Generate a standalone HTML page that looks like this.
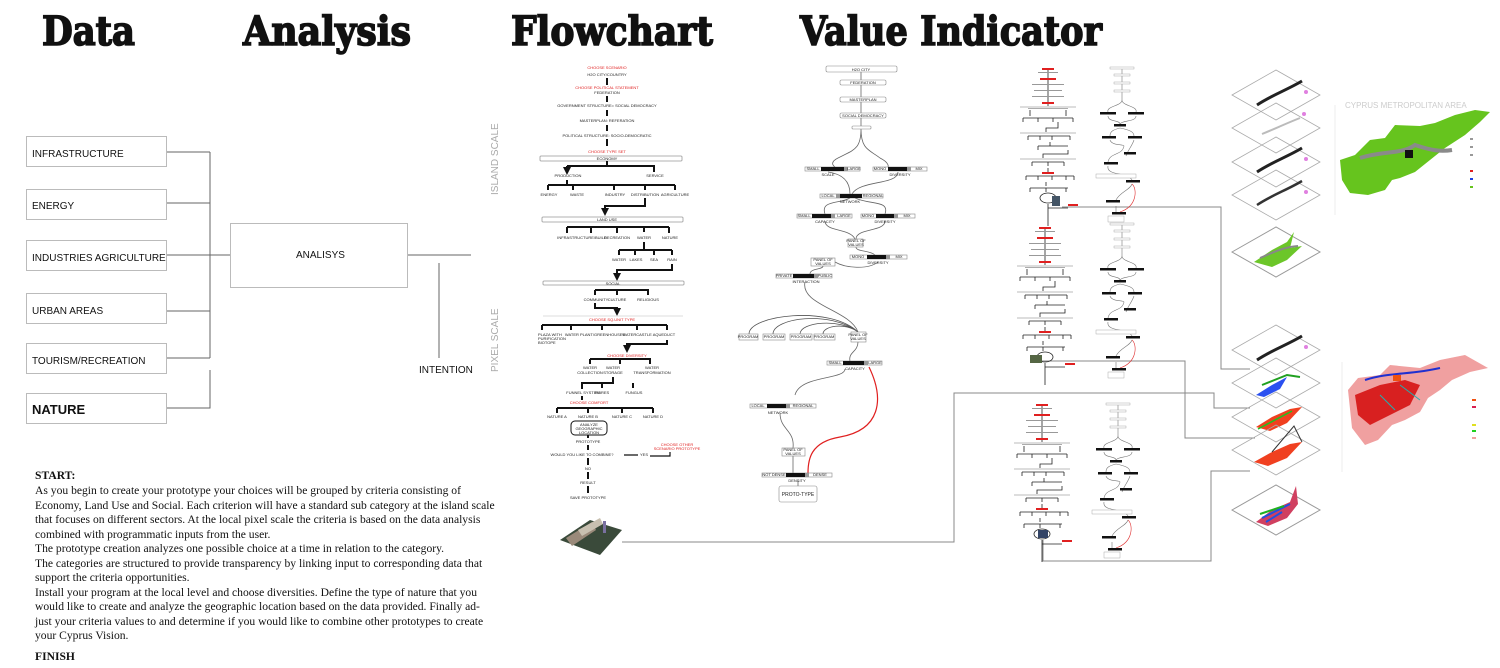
<!DOCTYPE html>
<html><head><meta charset="utf-8"><style>
html,body{margin:0;padding:0;background:#fff;}
svg{display:block;}
.h{font-family:"DejaVu Serif","Liberation Serif",serif;font-weight:900;font-size:40px;fill:#111;stroke:#111;stroke-width:1.6;}
.bx{fill:#fff;stroke:#bbb;stroke-width:1;}
.lb{font-family:"Liberation Sans",sans-serif;font-size:10px;fill:#111;}
.t{font-family:"Liberation Sans",sans-serif;font-size:4px;fill:#222;text-anchor:middle;}
.r{fill:#e02020;}
.k{stroke:#111;stroke-width:2;fill:none;}
.g{stroke:#666;stroke-width:1;fill:none;}
.vb{fill:#fff;stroke:#888;stroke-width:0.6;}
.p{font-family:"Liberation Serif",serif;font-size:11.6px;fill:#111;}
</style></head><body>
<svg width="1500" height="668" viewBox="0 0 1500 668" xmlns="http://www.w3.org/2000/svg">
<defs>
<marker id="ar" markerWidth="4" markerHeight="4" refX="2" refY="2" orient="auto"><path d="M0,0L4,2L0,4z" fill="#111"/></marker>
<g id="mf">
 <g stroke="#222" stroke-width="0.8" fill="none">
 <path d="M30,2V40M10,42H50M12,44V50M48,44V50M5,52H55M5,52V56M20,52V56M35,52V56M55,52V56M40,56V62H28V66M10,70H52M10,70V74M22,70V74M34,70V74M52,70V74M32,76V80M20,80H50M20,80V84M50,84V88H25V92M14,96H46M14,96V100M30,96V100M46,96V100M30,102V106M8,110H56M8,110V114M20,110V114M34,110V114M48,110V114M56,110V114M28,116V120M12,122H50M12,122V126M28,122V126M48,122V126M30,138V160M30,142H50"/>
 </g>
 <g fill="#ddd"><rect x="2" y="40" width="56" height="2"/><rect x="2" y="66" width="56" height="2"/><rect x="2" y="92" width="56" height="2"/></g>
 <ellipse cx="30" cy="132" rx="8" ry="5" fill="none" stroke="#222" stroke-width="0.8"/>
 <rect x="24" y="2" width="12" height="2" fill="#e02020"/><rect x="22" y="12" width="16" height="2" fill="#e02020"/><rect x="24" y="36" width="12" height="2" fill="#e02020"/><rect x="24" y="106" width="12" height="2" fill="#e02020"/><rect x="50" y="138" width="10" height="2" fill="#e02020"/>
 <g fill="#999"><rect x="20" y="6" width="20" height="1"/><rect x="14" y="18" width="32" height="1"/><rect x="16" y="24" width="28" height="1"/><rect x="14" y="30" width="32" height="1"/></g>
</g>
<g id="mv">
 <g stroke="#777" stroke-width="0.6" fill="none">
 <path d="M30,2V34C30,40 14,40 16,46M30,34C30,40 46,40 44,46M16,50C16,56 28,54 28,58M44,50C44,56 30,54 28,58M28,62C20,64 18,66 18,70M28,62C38,64 42,66 42,70M18,74C20,80 32,78 32,80M42,74C40,80 36,84 34,90M32,80C30,90 18,86 16,96M16,100C14,110 36,106 40,114M40,118C38,124 28,126 24,134M24,140V148"/>
 <path d="M40,118C45,122 46,140 28,146" stroke="#e03030"/>
 </g>
 <g fill="#fff" stroke="#999" stroke-width="0.4"><rect x="18" y="1" width="24" height="2"/><rect x="22" y="8" width="16" height="2"/><rect x="22" y="16" width="16" height="2"/><rect x="22" y="24" width="16" height="2"/><rect x="4" y="108" width="40" height="4"/><rect x="16" y="150" width="16" height="6"/></g>
 <g fill="#111"><rect x="8" y="46" width="16" height="2.5"/><rect x="36" y="46" width="16" height="2.5"/><rect x="22" y="58" width="12" height="2.5"/><rect x="10" y="70" width="14" height="2.5"/><rect x="36" y="70" width="14" height="2.5"/><rect x="32" y="86" width="12" height="2.5"/><rect x="12" y="96" width="14" height="2.5"/><rect x="34" y="114" width="14" height="2.5"/><rect x="14" y="134" width="14" height="2.5"/><rect x="20" y="146" width="14" height="2.5"/></g>
</g>
<g id="dia"><path d="M0,0L44,-25L88,0L44,25Z" fill="none" stroke="#aaa" stroke-width="0.8"/></g>
</defs>

<!-- headings -->
<text class="h" x="42" y="45" textLength="93" lengthAdjust="spacingAndGlyphs">Data</text>
<text class="h" x="243" y="45" textLength="168" lengthAdjust="spacingAndGlyphs">Analysis</text>
<text class="h" x="511" y="45" textLength="202" lengthAdjust="spacingAndGlyphs">Flowchart</text>
<text class="h" x="800" y="45" textLength="302" lengthAdjust="spacingAndGlyphs">Value Indicator</text>

<!-- data boxes -->
<g>
<rect class="bx" x="26.5" y="136.5" width="140" height="30"/><text class="lb" x="32" y="157">INFRASTRUCTURE</text>
<rect class="bx" x="26.5" y="189.5" width="140" height="30"/><text class="lb" x="32" y="209">ENERGY</text>
<rect class="bx" x="26.5" y="240.5" width="140" height="30"/><text class="lb" x="32" y="261">INDUSTRIES AGRICULTURE</text>
<rect class="bx" x="26.5" y="293.5" width="140" height="30"/><text class="lb" x="32" y="314">URBAN AREAS</text>
<rect class="bx" x="26.5" y="343.5" width="140" height="30"/><text class="lb" x="32" y="364">TOURISM/RECREATION</text>
<rect class="bx" x="26.5" y="393.5" width="140" height="30"/><text class="lb" x="32" y="414" style="font-size:13px;font-weight:bold">NATURE</text>
<path class="g" d="M167,152H210M167,203H210M167,255H230M167,311H210M167,358H210M210,152V358M210,370V408H167M407,255H471M439,263V358" stroke="#888"/>
<rect class="bx" x="230.5" y="223.5" width="177" height="64"/><text class="lb" x="296" y="258">ANALISYS</text>
<text class="lb" x="419" y="373">INTENTION</text>
<text x="498" y="195" transform="rotate(-90 498 195)" style="font-family:'Liberation Sans';font-size:10px;fill:#aaa">ISLAND SCALE</text>
<text x="498" y="372" transform="rotate(-90 498 372)" style="font-family:'Liberation Sans';font-size:10px;fill:#aaa">PIXEL SCALE</text>
</g>

<!-- text block -->
<g class="p">
<text x="35" y="479" style="font-weight:bold">START:</text>
<text x="35" y="494">As you begin to create your prototype your choices will be grouped by criteria consisting of</text>
<text x="35" y="509">Economy, Land Use and Social. Each criterion will have a standard sub category at the island scale</text>
<text x="35" y="523">that focuses on different sectors.  At the local pixel scale the criteria is based on the data analysis</text>
<text x="35" y="538">combined with programmatic inputs from the user.</text>
<text x="35" y="552">The prototype creation analyzes one possible choice at a time in relation to the category.</text>
<text x="35" y="567">The categories are structured to provide transparency by linking input to corresponding data that</text>
<text x="35" y="581">support the criteria opportunities.</text>
<text x="35" y="596">Install your program at the local level and choose diversities.  Define the type of nature that you</text>
<text x="35" y="610">would like to create and analyze the geographic location based on the data provided.  Finally ad-</text>
<text x="35" y="625">just your criteria values to and determine if  you would like to combine other prototypes to create</text>
<text x="35" y="639">your Cyprus Vision.</text>
<text x="35" y="660" style="font-weight:bold">FINISH</text>
</g>

<!-- flowchart -->
<g>
<text class="t r" x="607" y="69">CHOOSE SCENARIO</text>
<text class="t" x="607" y="76">H2O CITY/COUNTRY</text>
<path class="k" d="M607,78V85M607,96V102M607,110V116M607,125V131M607,139V146"/>
<text class="t r" x="607" y="89">CHOOSE POLITICAL STATEMENT</text>
<text class="t" x="607" y="94">FEDERATION</text>
<text class="t" x="607" y="107">GOVERNMENT STRUCTURE= SOCIAL DEMOCRACY</text>
<text class="t" x="607" y="122">MASTERPLAN: REFERATION</text>
<text class="t" x="607" y="137">POLITICAL STRUCTURE: SOCIO-DEMOCRATIC</text>
<text class="t r" x="607" y="153">CHOOSE TYPE SET</text>
<rect x="540" y="156" width="142" height="5" rx="1" fill="#fff" stroke="#999" stroke-width="0.8"/><text class="t" x="607" y="160">ECONOMY</text>
<path class="k" d="M607,161V166M567,166H654V172M567,166V171" marker-end="url(#ar)"/>
<text class="t" x="568" y="177">PRODUCTION</text><text class="t" x="655" y="177">SERVICE</text>
<path class="k" d="M567,180V185M548,185H675M548,185V190M573,185V190M614,185V190M675,185V190M645,185V190"/>
<text class="t" x="549" y="196">ENERGY</text><text class="t" x="577" y="196">WASTE</text><text class="t" x="615" y="196">INDUSTRY</text><text class="t" x="645" y="196">DISTRIBUTION</text><text class="t" x="675" y="196">AGRICULTURE</text>
<path class="k" d="M645,198V206H605V212" marker-end="url(#ar)"/>
<rect x="542" y="217" width="141" height="5" rx="1" fill="#fff" stroke="#999" stroke-width="0.8"/><text class="t" x="607" y="221">LAND USE</text>
<path class="k" d="M567,227H669M567,227V233M591,227V233M617,227V233M644,227V232M669,227V233"/>
<text class="t" x="582" y="239">INFRASTRUCTURE/BUILD</text><text class="t" x="617" y="239">RECREATION</text><text class="t" x="644" y="239">WATER</text><text class="t" x="670" y="239">NATURE</text>
<path class="k" d="M644,242V250M619,250H672M619,250V255M635,250V255M654,250V255M672,250V255"/>
<text class="t" x="619" y="261">WATER</text><text class="t" x="636" y="261">LAKES</text><text class="t" x="654" y="261">SEA</text><text class="t" x="672" y="261">RAIN</text>
<path class="k" d="M672,264V270H617V277" marker-end="url(#ar)"/>
<rect x="543" y="281" width="141" height="4" rx="1" fill="#fff" stroke="#999" stroke-width="0.8"/><text class="t" x="613" y="285">SOCIAL</text>
<path class="k" d="M595,290H648V295M617,290V295M595,290V295"/>
<text class="t" x="596" y="301">COMMUNITY</text><text class="t" x="617" y="301">CULTURE</text><text class="t" x="648" y="301">RELIGIOUS</text>
<path class="k" d="M595,303V308H617V312" marker-end="url(#ar)"/>
<line x1="543" y1="316" x2="683" y2="316" stroke="#ddd"/>
<text class="t r" x="612" y="321">CHOOSE SQ.UNIT TYPE</text>
<path class="k" d="M542,325H667M542,325V330M571,325V330M602,325V330M637,325V330M667,325V330"/>
<text class="t" x="538" y="336" style="text-anchor:start">PLAZA WITH</text><text class="t" x="538" y="340" style="text-anchor:start">PURIFICATION</text><text class="t" x="538" y="344" style="text-anchor:start">BIOTOPE</text>
<text class="t" x="595" y="336">WATER PLANT/GREENHOUSES</text><text class="t" x="637" y="336">WATERCASTLE</text><text class="t" x="664" y="336">AQUEDUCT</text>
<path class="k" d="M667,340V344H627V349" marker-end="url(#ar)"/>
<text class="t r" x="627" y="357">CHOOSE DIVERSITY</text>
<path class="k" d="M590,359H650V364M620,359V364M590,359V364"/>
<text class="t" x="590" y="369">WATER</text><text class="t" x="590" y="374">COLLECTION</text><text class="t" x="613" y="369">WATER</text><text class="t" x="613" y="374">STORAGE</text><text class="t" x="652" y="369">WATER</text><text class="t" x="652" y="374">TRANSFORMATION</text>
<path class="k" d="M613,377V383H582V389M602,383V388M633,383V388" />
<text class="t" x="583" y="394">FUNNEL SYSTEM</text><text class="t" x="602" y="394">FIBRES</text><text class="t" x="634" y="394">FUNGUS</text>
<path class="k" d="M582,396V400"/>
<text class="t r" x="589" y="404">CHOOSE COMFORT</text>
<path class="k" d="M557,408H653M557,408V413M588,408V413M622,408V413M653,408V413"/>
<text class="t" x="557" y="418">NATURE A</text><text class="t" x="588" y="418">NATURE B</text><text class="t" x="622" y="418">NATURE C</text><text class="t" x="653" y="418">NATURE D</text>
<rect x="571" y="421" width="36" height="14" rx="4" fill="#fff" stroke="#111" stroke-width="1"/>
<text class="t" x="589" y="426">ANALYZE</text><text class="t" x="589" y="430">GEOGRAPHIC</text><text class="t" x="589" y="434">LOCATION</text>
<path class="k" d="M588,435V438"/>
<text class="t" x="588" y="443">PROTOTYPE</text>
<path class="k" d="M588,445V450"/>
<text class="t" x="582" y="456">WOULD YOU LIKE TO COMBINE?</text>
<path d="M624,455H638M650,456H670V452" stroke="#111" stroke-width="1.2" fill="none"/>
<text class="t" x="644" y="456">YES</text>
<text class="t r" x="677" y="446">CHOOSE OTHER</text><text class="t r" x="677" y="450">SCENARIO PROTOTYPE</text>
<path class="k" d="M588,458V465M588,472V479M588,486V493"/>
<text class="t" x="588" y="470">NO</text><text class="t" x="588" y="484">RESULT</text><text class="t" x="588" y="499">SAVE PROTOTYPE</text>
<!-- building -->
<path d="M560,540L590,520L622,530L600,555Z" fill="#3a4a3a"/>
<path d="M566,538L592,522L596,530L572,546Z" fill="#9a8a7a"/>
<path d="M578,530L600,518L603,524L582,536Z" fill="#c8c0b0"/>
<rect x="603" y="521" width="3" height="12" fill="#7a70a0"/>
</g>

<!-- value indicator -->
<g>
<path d="M861,72V80M861,85V97M861,102V113M861,118V126M861,129C861,150 853,150 838,158C828,163 835,167 835,167M861,129C861,150 870,150 880,158C890,163 888,167 888,167M828,172C850,175 850,190 850,194M898,172C898,185 860,180 852,194M850,198C840,204 820,200 825,214M855,198C870,205 890,200 885,214M825,221C825,232 850,228 855,239M885,221C885,232 856,228 856,239M856,247C856,252 870,250 875,255M878,262C868,270 845,268 835,262M823,266C823,270 810,268 810,274M805,282C800,305 850,310 858,332M858,342C858,352 848,352 850,361M845,369C845,380 800,375 795,395M795,404M780,413C780,430 795,430 793,448M793,456V473M798,481V486" stroke="#666" stroke-width="0.8" fill="none"/>
<path d="M749,334C749,315 830,305 858,332M773,334C773,318 830,310 858,332M800,334C800,322 840,318 858,332M823,334C823,326 845,322 858,332" stroke="#555" stroke-width="0.8" fill="none"/>
<path d="M869,367C885,400 880,430 840,437C810,442 808,460 808,473" stroke="#e02020" stroke-width="1.2" fill="none"/>
<g class="vb">
<rect x="826" y="66" width="71" height="6" rx="1.5"/><rect x="840" y="80" width="46" height="5" rx="1.5"/><rect x="840" y="97" width="46" height="5" rx="1.5"/><rect x="840" y="113" width="46" height="5" rx="1.5"/><rect x="852" y="126" width="19" height="3" rx="1"/>
<rect x="805" y="167" width="55" height="4"/><rect x="873" y="167" width="54" height="4"/>
<rect x="820" y="194" width="63" height="4"/>
<rect x="797" y="214" width="55" height="4"/><rect x="861" y="214" width="54" height="4"/>
<rect x="848" y="239" width="15" height="8"/>
<rect x="850" y="255" width="57" height="4"/>
<rect x="811" y="258" width="24" height="8"/>
<rect x="776" y="274" width="56" height="4"/>
<rect x="739" y="334" width="19" height="6"/><rect x="763" y="334" width="22" height="6"/><rect x="790" y="334" width="22" height="6"/><rect x="814" y="334" width="21" height="6"/>
<rect x="851" y="332" width="15" height="10"/>
<rect x="827" y="361" width="55" height="4"/>
<rect x="750" y="404" width="66" height="4"/>
<rect x="782" y="448" width="23" height="8"/>
<rect x="762" y="473" width="70" height="4"/>
<rect x="779" y="486" width="38" height="16" rx="2"/>
</g>
<g fill="#111">
<rect x="821" y="167" width="23" height="4"/><rect x="888" y="167" width="22" height="4"/><rect x="836" y="194" width="26" height="4"/><rect x="812" y="214" width="23" height="4"/><rect x="876" y="214" width="22" height="4"/><rect x="867" y="255" width="23" height="4"/><rect x="793" y="274" width="25" height="4"/><rect x="843" y="361" width="25" height="4"/><rect x="767" y="404" width="23" height="4"/><rect x="786" y="473" width="22" height="4"/>
</g>
<g fill="#999"><rect x="844" y="167" width="4" height="4"/><rect x="907" y="167" width="4" height="4"/><rect x="836" y="194" width="4" height="4"/><rect x="831" y="214" width="4" height="4"/><rect x="894" y="214" width="4" height="4"/><rect x="886" y="255" width="4" height="4"/><rect x="814" y="274" width="4" height="4"/><rect x="864" y="361" width="4" height="4"/><rect x="786" y="404" width="4" height="4"/><rect x="805" y="473" width="4" height="4"/></g>
<g class="t">
<text class="t" x="861" y="71">H2O CITY</text><text class="t" x="863" y="84">FEDERATION</text><text class="t" x="863" y="101">MASTERPLAN</text><text class="t" x="863" y="117">SOCIAL DEMOCRACY</text>
<text class="t" x="813" y="170">SMALL</text><text class="t" x="854" y="170">LARGE</text><text class="t" x="828" y="176">SCALE</text>
<text class="t" x="880" y="170">MONO</text><text class="t" x="919" y="170">MIX</text><text class="t" x="900" y="176">DIVERSITY</text>
<text class="t" x="828" y="197">LOCAL</text><text class="t" x="873" y="197">REGIONAL</text><text class="t" x="850" y="203">NETWORK</text>
<text class="t" x="804" y="217">SMALL</text><text class="t" x="844" y="217">LARGE</text><text class="t" x="825" y="223">CAPACITY</text>
<text class="t" x="868" y="217">MONO</text><text class="t" x="907" y="217">MIX</text><text class="t" x="885" y="223">DIVERSITY</text>
<text class="t" x="856" y="242">PANEL OF</text><text class="t" x="856" y="246">VALUES</text>
<text class="t" x="858" y="258">MONO</text><text class="t" x="899" y="258">MIX</text><text class="t" x="878" y="264">DIVERSITY</text>
<text class="t" x="823" y="261">PANEL OF</text><text class="t" x="823" y="265">VALUES</text>
<text class="t" x="784" y="277">PRIVATE</text><text class="t" x="825" y="277">PUBLIC</text><text class="t" x="806" y="283">INTERACTION</text>
<text class="t" x="748" y="338">PROGRAM</text><text class="t" x="774" y="338">PROGRAM</text><text class="t" x="801" y="338">PROGRAM</text><text class="t" x="824" y="338">PROGRAM</text>
<text class="t" x="858" y="336">PANEL OF</text><text class="t" x="858" y="340">VALUES</text>
<text class="t" x="835" y="364">SMALL</text><text class="t" x="875" y="364">LARGE</text><text class="t" x="855" y="370">CAPACITY</text>
<text class="t" x="758" y="407">LOCAL</text><text class="t" x="803" y="407">REGIONAL</text><text class="t" x="778" y="414">NETWORK</text>
<text class="t" x="793" y="451">PANEL OF</text><text class="t" x="793" y="455">VALUES</text>
<text class="t" x="774" y="476">NOT DENSE</text><text class="t" x="820" y="476">DENSE</text><text class="t" x="797" y="482">DENSITY</text>
<text class="t" x="798" y="496" style="font-size:5px">PROTO-TYPE</text>
</g>
</g>

<!-- connectors right -->
<path d="M1062,207H1221V369H1250M1042,361H1185V438H1255M622,542H954V393H1214V408H1250M1043,540V561H1211V471H1250" stroke="#888" stroke-width="1" fill="none"/>

<!-- mini flowcharts -->
<use href="#mf" x="1018" y="66"/>
<use href="#mv" x="1092" y="66"/>
<use href="#mf" x="1015" y="225"/>
<use href="#mv" x="1092" y="222"/>
<use href="#mf" x="1012" y="402"/>
<use href="#mv" x="1088" y="402"/>
<rect x="1052" y="196" width="8" height="10" fill="#445566"/>
<rect x="1030" y="355" width="12" height="8" fill="#556644"/>
<rect x="1038" y="530" width="10" height="8" fill="#334466"/>

<!-- diamonds -->
<g transform="translate(1232,95)"><use href="#dia"/><path d="M25,10C40,0 55,-5 70,-14" stroke="#222" stroke-width="3" fill="none"/><circle cx="74" cy="-3" r="2" fill="#e080e0"/></g>
<g transform="translate(1232,128)"><use href="#dia"/><path d="M30,6C45,0 55,-5 68,-10" stroke="#bbb" stroke-width="2" fill="none"/><circle cx="72" cy="-14" r="2" fill="#e080e0"/></g>
<g transform="translate(1232,162)"><use href="#dia"/><path d="M25,10C40,0 55,-5 70,-14" stroke="#222" stroke-width="3" fill="none"/><circle cx="74" cy="-3" r="2" fill="#e080e0"/></g>
<g transform="translate(1232,195)"><use href="#dia"/><path d="M25,10C40,0 55,-5 70,-14" stroke="#333" stroke-width="2.5" fill="none"/><circle cx="74" cy="-3" r="2" fill="#e080e0"/></g>
<g transform="translate(1232,252)"><path d="M0,0L44,-25L88,0L44,25Z" fill="none" stroke="#999" stroke-width="1"/><path d="M22,10L40,-2L55,-10L62,-20L58,-4L70,-6L55,8L40,15Z" fill="#6cc629"/><path d="M28,6C42,0 52,-5 66,-6" stroke="#888" stroke-width="2" fill="none"/></g>
<g transform="translate(1232,350)"><use href="#dia"/><path d="M25,10C40,0 55,-5 70,-14" stroke="#222" stroke-width="3" fill="none"/><circle cx="74" cy="-3" r="2" fill="#e080e0"/></g>
<g transform="translate(1232,383)"><use href="#dia"/><path d="M24,12L40,2L55,-6L48,6L32,14Z" fill="#2a50f0"/><path d="M30,2L55,-8L68,-6" stroke="#20a020" stroke-width="2" fill="none"/></g>
<g transform="translate(1232,417)"><use href="#dia"/><path d="M24,10L40,0L58,-8L70,-10L55,6L38,14Z" fill="#f04020"/><path d="M26,12L60,-6" stroke="#20c020" stroke-width="1.5" fill="none"/></g>
<g transform="translate(1232,450)"><use href="#dia"/><path d="M22,12L40,2L58,-6L70,-8L55,8L36,16Z" fill="#f04020"/><path d="M40,2L62,-24L70,-8" stroke="#333" fill="none"/></g>
<g transform="translate(1232,510)"><path d="M0,0L44,-25L88,0L44,25Z" fill="none" stroke="#999" stroke-width="1"/><path d="M24,12L40,0L58,-8L64,-24L66,-6L55,8L36,16Z" fill="#d04060"/><path d="M30,8L58,-6M34,12L50,2" stroke="#2050e0" stroke-width="2" fill="none"/><path d="M28,4L52,-4" stroke="#20b020" stroke-width="2" fill="none"/></g>

<!-- green map -->
<text x="1345" y="108" style="font-family:'Liberation Sans';font-size:8px;fill:#ccc">CYPRUS METROPOLITAN AREA</text>
<path d="M1340,160L1355,155L1370,140L1385,138L1395,125L1420,126L1435,123L1455,115L1475,110L1490,112L1480,122L1465,135L1445,148L1430,160L1415,172L1400,178L1392,180L1385,190L1368,195L1350,193L1342,180Z" fill="#66c41e"/>
<path d="M1360,158C1385,150 1400,155 1415,145C1430,150 1440,152 1452,150" stroke="#8a8a8a" stroke-width="4" fill="none"/>
<rect x="1405" y="150" width="8" height="8" fill="#111"/>
<g fill="#999"><rect x="1470" y="138" width="3" height="2"/><rect x="1470" y="146" width="3" height="2"/><rect x="1470" y="154" width="3" height="2"/><rect x="1470" y="170" width="3" height="2" fill="#e02020"/><rect x="1470" y="178" width="3" height="2" fill="#2040e0"/><rect x="1470" y="186" width="3" height="2" fill="#66c41e"/></g>
<line x1="1335" y1="105" x2="1335" y2="215" stroke="#eee"/>

<!-- red map -->
<path d="M1348,390L1358,378L1380,375L1390,365L1420,368L1440,360L1465,355L1488,368L1470,372L1452,380L1440,390L1428,398L1420,412L1405,420L1392,425L1378,440L1365,445L1352,428Z" fill="#f0a0a0"/>
<path d="M1355,395L1380,385L1405,380L1420,385L1410,405L1390,415L1370,425L1358,415Z" fill="#d82020"/>
<path d="M1365,380C1390,372 1410,375 1440,368" stroke="#2030d0" stroke-width="2" fill="none"/>
<path d="M1380,395L1395,410M1400,385L1420,400" stroke="#20b0b0" stroke-width="1" fill="none"/>
<rect x="1393" y="375" width="8" height="6" fill="#f05010"/>
<g><rect x="1472" y="399" width="4" height="2" fill="#f05010"/><rect x="1472" y="406" width="4" height="2" fill="#d82050"/><rect x="1472" y="424" width="4" height="2" fill="#e0e020"/><rect x="1472" y="430" width="4" height="2" fill="#20d020"/><rect x="1472" y="437" width="4" height="2" fill="#f0a0a0"/></g>
<line x1="1342" y1="362" x2="1342" y2="472" stroke="#eee"/>
</svg>
</body></html>
